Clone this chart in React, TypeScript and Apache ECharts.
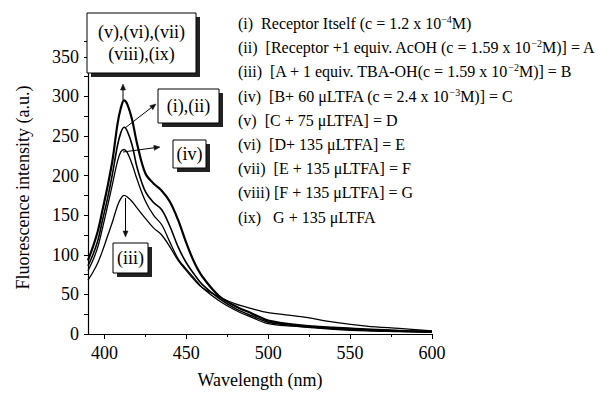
import React, { useEffect, useRef } from "react";
import * as echarts from "echarts";

const wavelength = [390, 393, 396, 399, 402, 405, 408, 410, 412, 414, 417, 420, 425, 430, 435, 440, 445, 450, 455, 460, 470, 480, 490, 500, 520, 540, 560, 580, 600];
const seriesVtoIX = [93, 110, 130, 158, 187, 220, 265, 285, 295, 290, 270, 240, 203, 190, 181, 167, 144, 115, 90, 72, 48, 35, 26, 17, 11, 8, 6, 4, 3];
const seriesIandII = [86, 100, 118, 145, 172, 203, 238, 254, 261, 256, 238, 210, 180, 166, 157, 136, 110, 90, 75, 62, 45, 32, 23, 15, 10, 7, 5, 4, 3];
const seriesIV = [80, 93, 110, 135, 162, 190, 218, 230, 233, 229, 214, 195, 168, 150, 138, 116, 95, 82, 70, 58, 42, 30, 21, 13, 9, 6, 4, 3, 2];
const seriesIII = [68, 78, 90, 106, 124, 142, 162, 171, 175, 173, 167, 159, 146, 134, 125, 110, 93, 80, 68, 58, 47, 38, 32, 27, 22, 15, 10, 7, 4];

const xTickValues = [400, 450, 500, 550, 600];
const xMinorValues = [425, 475, 525, 575];

const legendLines = [
  "(i)  Receptor Itself (c = 1.2 x 10{s|−4}M)",
  "(ii)  [Receptor +1 equiv. AcOH (c = 1.59 x 10{s|−2}M)] = A",
  "(iii)  [A + 1 equiv. TBA-OH(c = 1.59 x 10{s|−2}M)] = B",
  "(iv)  [B+ 60 μLTFA (c = 2.4 x 10{s|−3}M)] = C",
  "(v)  [C + 75 μLTFA] = D",
  "(vi)  [D+ 135 μLTFA] = E",
  "(vii)  [E + 135 μLTFA] = F",
  "(viii) [F + 135 μLTFA] = G",
  "(ix)   G + 135 μLTFA",
];

const FONT = "'Liberation Serif', 'Times New Roman', serif";

function pairs(vals: number[]) {
  return wavelength.map((w, i) => [w, vals[i]]);
}

let uid = 0;
function seg(x1: number, y1: number, x2: number, y2: number, w: number) {
  uid++;
  return { type: "line", id: `sg${uid}`, z: 100, shape: { x1, y1, x2, y2 }, style: { stroke: "#222", lineWidth: w } };
}

function box(x: number, y: number, w: number, h: number, text: string) {
  const o = 4;
  uid++;
  const id = uid;
  return [
    seg(x + w + o / 2, y + o, x + w + o / 2, y + h + o, o),
    seg(x + o, y + h + o / 2, x + w + o, y + h + o / 2, o),
    {
      type: "rect", id: `bx${id}`, z: 101,
      shape: { x, y, width: w, height: h },
      style: { fill: "#ffffff", stroke: "#000", lineWidth: 1 },
    },
    {
      type: "text", id: `boxtx${id}`, z: 102, x: x + w / 2, y: y + h / 2,
      style: { text, fill: "#000", font: `18px ${FONT}`, align: "center", verticalAlign: "middle", lineHeight: 22 },
    },
  ];
}

function arrow(x1: number, y1: number, x2: number, y2: number) {
  const dx = x2 - x1, dy = y2 - y1;
  const len = Math.sqrt(dx * dx + dy * dy);
  const ux = dx / len, uy = dy / len;
  const hl = 6, hw = 2.5;
  const bx = x2 - ux * hl, by = y2 - uy * hl;
  uid++;
  return [
    { type: "line", id: `al${uid}`, z: 100, shape: { x1, y1, x2: bx, y2: by }, style: { stroke: "#000", lineWidth: 1 } },
    {
      type: "polygon", id: `ah${uid}`, z: 100,
      shape: { points: [[x2, y2], [bx - uy * hw, by + ux * hw], [bx + uy * hw, by - ux * hw]] },
      style: { fill: "#111", stroke: "#111", lineWidth: 0.5 },
    },
  ];
}

export default function App() {
  const ref = useRef<HTMLDivElement>(null);
  useEffect(() => {
    const chart = echarts.init(ref.current!, null, { renderer: "svg" });
    const lineStyle = (w: number) => ({ color: "#000", width: w });
    uid = 0;
    const graphic: any[] = [
      ...arrow(123, 100, 123, 84),
      ...arrow(125, 128, 156, 104),
      ...arrow(123, 152, 160, 147),
      ...arrow(125.5, 198, 125.5, 237),
      ...box(87, 13, 109, 60, "(v),(vi),(vii)\n(viii),(ix)"),
      ...box(158, 89, 61, 34, "(i),(ii)"),
      ...box(173, 140, 33, 28, "(iv)"),
      ...box(113, 243, 35, 30, "(iii)"),
      ...legendLines.map((t, i) => ({
        type: "text", id: `lg${i}`, z: 100, x: 238, y: 23.5 + i * 24.2,
        style: {
          text: t, fill: "#000", font: `16px ${FONT}`, verticalAlign: "middle", lineHeight: 18,
          rich: { s: { fontSize: 10, fontFamily: FONT, verticalAlign: "top", lineHeight: 18 } },
        },
      })),
    ];
    chart.setOption({
      animation: false,
      backgroundColor: "#fff",
      textStyle: { fontFamily: FONT },
      grid: { left: 88, right: 166, top: 41, bottom: 56, containLabel: false },
      xAxis: [
        {
          type: "value", min: 390, max: 600, position: "bottom",
          name: "Wavelength (nm)", nameLocation: "middle", nameGap: 37,
          nameTextStyle: { fontSize: 18, color: "#000", fontFamily: FONT },
          axisLine: { lineStyle: { color: "#000", width: 1.2 } },
          axisTick: { customValues: xTickValues, length: 5, lineStyle: { color: "#000" } },
          axisLabel: { customValues: xTickValues, fontSize: 18, color: "#000", margin: 10, fontFamily: FONT },
          splitLine: { show: false },
        },
        {
          type: "value", min: 390, max: 600, position: "bottom",
          axisLine: { show: false },
          axisTick: { show: true, customValues: xMinorValues, length: 3, lineStyle: { color: "#000" } },
          axisLabel: { show: false },
          splitLine: { show: false },
        },
      ],
      yAxis: {
        type: "value", min: 0, max: 370, interval: 50,
        name: "Fluorescence intensity (a.u.)", nameLocation: "middle", nameGap: 56,
        nameTextStyle: { fontSize: 18, color: "#000", fontFamily: FONT },
        axisLine: { show: true, lineStyle: { color: "#000", width: 1.2 } },
        axisTick: { show: true, length: 4, lineStyle: { color: "#000" } },
        minorTick: { show: true, splitNumber: 2, length: 4, lineStyle: { color: "#000" } },
        axisLabel: {
          fontSize: 18, color: "#000", margin: 9, fontFamily: FONT,
          formatter: (v: number) => (v % 50 === 0 ? String(v) : ""),
        },
        splitLine: { show: false },
      },
      series: [
        { name: "(iii)", type: "line", data: pairs(seriesIII), symbol: "none", smooth: 0.35, lineStyle: lineStyle(1.3) },
        { name: "(iv)", type: "line", data: pairs(seriesIV), symbol: "none", smooth: 0.35, lineStyle: lineStyle(1.3) },
        { name: "(i),(ii)", type: "line", data: pairs(seriesIandII), symbol: "none", smooth: 0.35, lineStyle: lineStyle(1.6) },
        { name: "(v)-(ix)", type: "line", data: pairs(seriesVtoIX), symbol: "none", smooth: 0.35, lineStyle: lineStyle(2.2) },
      ],
      graphic,
    });
    return () => chart.dispose();
  }, []);
  return <div ref={ref} style={{ width: 598, height: 394, position: "absolute", left: 0, top: 0 }} />;
}
